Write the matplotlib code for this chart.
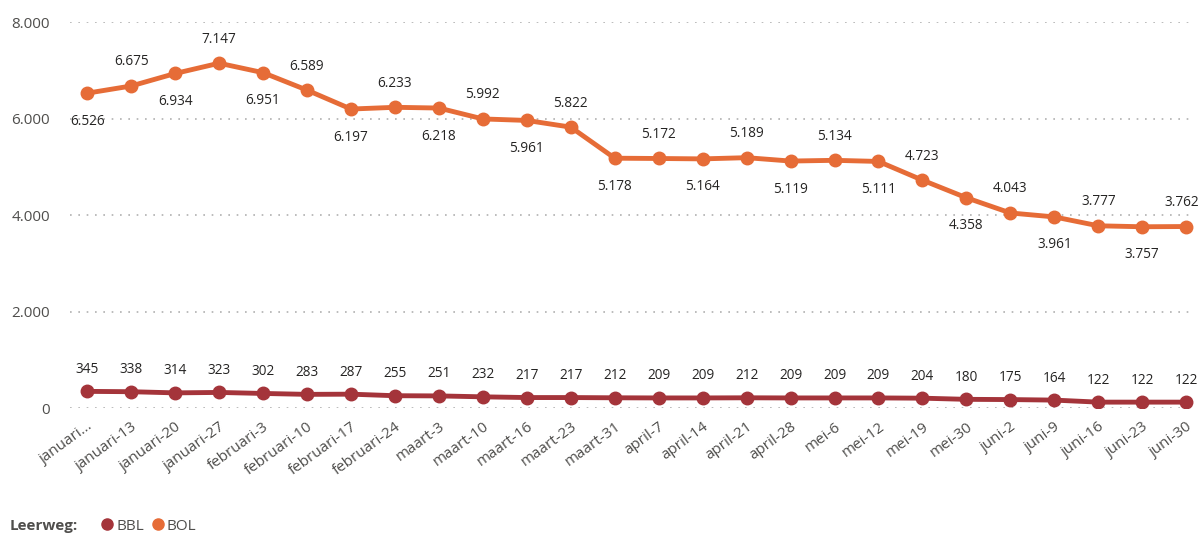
import matplotlib.pyplot as plt
from matplotlib.lines import Line2D

# Data
weeks = ["januari...", "januari-13", "januari-20", "januari-27", "februari-3", "februari-10",
         "februari-17", "februari-24", "maart-3", "maart-10", "maart-16", "maart-23",
         "maart-31", "april-7", "april-14", "april-21", "april-28", "mei-6", "mei-12",
         "mei-19", "mei-30", "juni-2", "juni-9", "juni-16", "juni-23", "juni-30"]
bol = [6526, 6675, 6934, 7147, 6951, 6589, 6197, 6233, 6218, 5992, 5961, 5822, 5178,
       5172, 5164, 5189, 5119, 5134, 5111, 4723, 4358, 4043, 3961, 3777, 3757, 3762]
bbl = [345, 338, 314, 323, 302, 283, 287, 255, 251, 232, 217, 217, 212,
       209, 209, 212, 209, 209, 209, 204, 180, 175, 164, 122, 122, 122]

plt.rcParams["font.family"] = ["Open Sans", "DejaVu Sans"]

col_bol = "#E66C37"
col_bbl = "#A4343A"
txt_col = "#252423"
tick_col = "#4F4E4C"

def fmt(v):
    return f"{v:,}".replace(",", ".")

fig = plt.figure(figsize=(12.01, 5.38), dpi=100)
ax = fig.add_axes([0.058, 0.2416, 0.937, 0.7174])

x = list(range(len(weeks)))
ax.plot(x, bol, color=col_bol, lw=3.5, marker="o", ms=9, zorder=3)
ax.plot(x, bbl, color=col_bbl, lw=3.5, marker="o", ms=9, zorder=3)

# labels alternate below / above, like the report
for i, v in enumerate(bol):
    dy = -28 if i % 2 == 0 else 24
    dx = -4 if i == len(bol) - 1 else 0
    ax.annotate(fmt(v), (i, v), xytext=(dx, dy), textcoords="offset pixels",
                ha="center", va="center", fontsize=9.8, color=txt_col)
for i, v in enumerate(bbl):
    ax.annotate(fmt(v), (i, v), xytext=(0, 22), textcoords="offset pixels",
                ha="center", va="center", fontsize=9.8, color=txt_col)

ax.set_xlim(-0.4, 25.2)
ax.set_ylim(0, 8000)
ax.set_yticks([0, 2000, 4000, 6000, 8000])
ax.set_yticklabels([fmt(t) for t in [0, 2000, 4000, 6000, 8000]], fontsize=11, color=tick_col)
ax.set_xticks(x)
ax.set_xticklabels(weeks, rotation=36, ha="right", rotation_mode="anchor",
                   fontsize=11, color=tick_col)
ax.tick_params(axis="both", length=0)
ax.tick_params(axis="x", pad=8)
ax.tick_params(axis="y", pad=14)
ax.grid(axis="y", color="#B0B0B0", linestyle=(0, (1, 4)), lw=1.2)
ax.set_axisbelow(True)
for s in ax.spines.values():
    s.set_visible(False)

# Legend
fig.text(0.008, 0.022, "Leerweg:", fontsize=11, fontweight="bold", color=tick_col,
         ha="left", va="center")
handles = [Line2D([], [], color=c, marker="o", ls="", ms=8) for c in (col_bbl, col_bol)]
fig.legend(handles, ["BBL", "BOL"], loc="center left", bbox_to_anchor=(0.070, 0.022),
           frameon=False, ncol=2, handletextpad=0.0, columnspacing=0.3,
           handlelength=1.2, prop={"size": 11}, labelcolor=tick_col)

plt.savefig("out.png", dpi=100)
